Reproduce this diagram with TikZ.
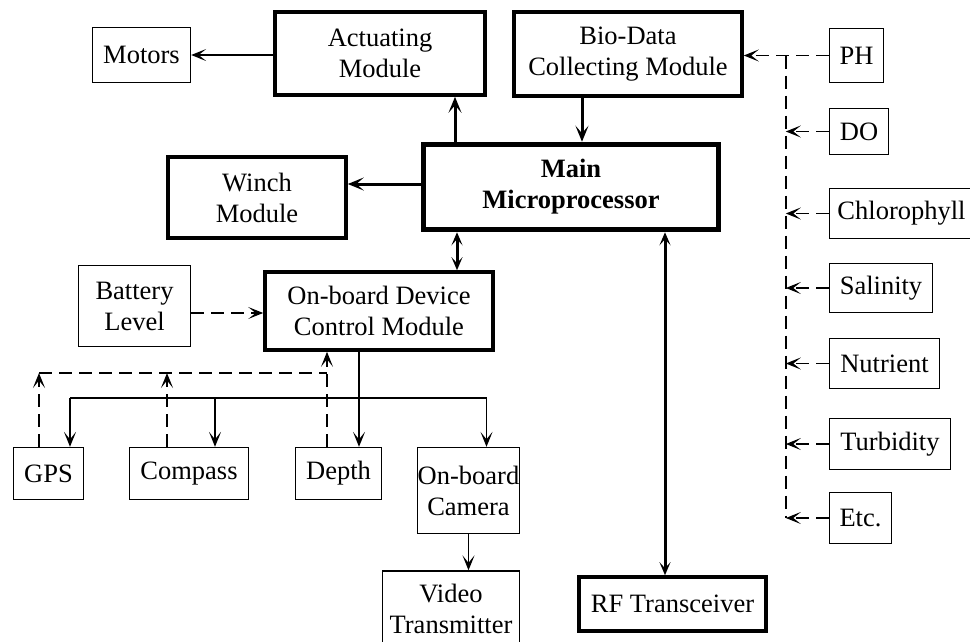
\documentclass[tikz,border=0pt]{standalone}
\usepackage{fontspec}
\setmainfont{Liberation Serif}
\usetikzlibrary{arrows.meta,calc}
\tikzset{
  uvnode/.style={
    draw, align=center, inner sep=0pt,
    font=\fontsize{26.5pt}{31pt}\selectfont
  },
  thinbox/.style={uvnode, line width=1.3pt},
  thickbox/.style={uvnode, line width=3.6pt},
  mainbox/.style={uvnode, line width=5.5pt, font=\fontsize{26.5pt}{31pt}\selectfont\bfseries},
  flow/.style={-{Stealth[length=15pt, width=12pt, inset=7.5pt]}, line width=1.3pt},
  bigflow/.style={-{Stealth[length=16pt, width=13pt, inset=7.5pt]}, line width=3pt},
  bothflow/.style={{Stealth[length=13pt, width=11pt, inset=6pt]}-{Stealth[length=13pt, width=11pt, inset=6pt]}, line width=3pt},
  dashline/.style={line width=1.3pt, dash pattern=on 13pt off 7pt},
  dashflow/.style={flow, dash pattern=on 13pt off 7pt}
}
\begin{document}
\begin{tikzpicture}[x=1pt, y=-1pt]
  \useasboundingbox (0,0) rectangle (970,641);
  % top row
  \node[thinbox, minimum width=98pt, minimum height=55pt] (motors) at (141.5,55) {Motors};
  \node[thickbox, minimum width=210pt, minimum height=83pt] (act) at (380,53.5) {Actuating\\Module};
  \node[thickbox, minimum width=228pt, minimum height=84pt] (bio) at (628,54) {Bio-Data\\Collecting Module};
  % sensors
  \node[thinbox, minimum width=54pt, minimum height=54pt] (ph) at (856.5,55.5) {PH};
  \node[thinbox, minimum width=59pt, minimum height=46pt] (do) at (859,131.5) {DO};
  \node[thinbox, minimum width=144pt, minimum height=50pt] (chl) at (901.5,213.5) {Chlorophyll};
  \node[thinbox, minimum width=103pt, minimum height=49pt] (sal) at (881,288) {Salinity};
  \node[thinbox, minimum width=110pt, minimum height=50pt] (nut) at (884.5,363.5) {Nutrient};
  \node[thinbox, minimum width=121pt, minimum height=51pt] (tur) at (890,444) {Turbidity};
  \node[thinbox, minimum width=62pt, minimum height=51pt] (etc) at (860.5,518) {Etc.};
  % middle
  \node[mainbox, minimum width=295pt, minimum height=85pt] (main) at (571,187) {Main\\Microprocessor};
  \node[thickbox, minimum width=178pt, minimum height=81pt] (winch) at (257,197.5) {Winch\\Module};
  \node[thinbox, minimum width=112pt, minimum height=81pt] (batt) at (134.5,306) {Battery\\Level};
  \node[thickbox, minimum width=228pt, minimum height=78pt] (onb) at (379,311) {On-board Device\\Control Module};
  % bottom row
  \node[thinbox, minimum width=70pt, minimum height=52pt] (gps) at (48.5,473.5) {GPS};
  \node[thinbox, minimum width=119pt, minimum height=52pt] (comp) at (189,473.5) {Compass};
  \node[thinbox, minimum width=86pt, minimum height=52pt] (depth) at (338.5,473.5) {Depth};
  \node[thinbox, minimum width=90pt, minimum height=86pt] (cam) at (468.5,490.5) {On-board\\Camera};
  \node[thinbox, minimum width=137pt, minimum height=76pt] (video) at (451,609) {Video\\Transmitter};
  \node[thickbox, minimum width=187pt, minimum height=54pt] (rf) at (672.5,604) {RF Transceiver};

  % main processor links
  \draw[flow] (act.west |- motors.east) -- (motors.east);
  \draw[bigflow] ([xshift=-116pt]main.north) -- ([xshift=-116pt]main.north |- act.south);
  \draw[bigflow] ([xshift=-46pt]bio.south) -- ([xshift=-46pt]bio.south |- main.north);
  \draw[bigflow] ([yshift=3pt]main.west) -- ([yshift=3pt]main.west -| winch.east);
  \draw[bothflow] ([xshift=-114pt]main.south) -- ([xshift=-114pt]main.south |- onb.north);
  \draw[bothflow] ([xshift=94pt]main.south) -- ([xshift=94pt]main.south |- rf.north);
  \draw[dashflow] ([yshift=-7pt]batt.east) -- ([yshift=-7pt]batt.east -| onb.west);

  % device bus
  \coordinate (busL) at ([xshift=21.5pt]gps.north |- 0,398);
  \coordinate (busR) at ([xshift=18pt]cam.north |- 0,398);
  \draw[line width=1.3pt] (busL) -- (busR);
  \draw[flow] (busL) -- (busL |- gps.north);
  \draw[flow] ([xshift=26pt]comp.north |- busL) -- ([xshift=26pt]comp.north);
  \draw[flow] (busR) -- (busR |- cam.north);
  \draw[flow] ([xshift=-20pt]onb.south) -- ([xshift=-20pt]onb.south |- depth.north);
  \draw[flow] (cam.south) -- (cam.south |- video.north);

  % sensor feedback
  \coordinate (fb) at (0,373);
  \draw[dashflow] ([xshift=-9.5pt]gps.north) -- ([xshift=-9.5pt]gps.north |- fb);
  \draw[dashflow] ([xshift=-22pt]comp.north) -- ([xshift=-22pt]comp.north |- fb);
  \draw[dashflow] ([xshift=-11.5pt]depth.north) -- ([xshift=-11.5pt]depth.north |- onb.south);
  \draw[dashline] ([xshift=-9.5pt]gps.north |- fb) -- ([xshift=-11.5pt]depth.north |- fb);

  % bio-data sensors
  \coordinate (sp1) at ([xshift=-43pt]ph.west);
  \coordinate (sp2) at ([xshift=-43pt]etc.west);
  \draw[dashline] (sp1) -- (sp2);
  \draw[dashflow] (ph.west) -- (ph.west -| bio.east);
  \foreach \s in {do,chl,sal,nut,tur,etc}
    \draw[dashflow] (\s.west) -- (\s.west -| sp1);
\end{tikzpicture}
\end{document}
